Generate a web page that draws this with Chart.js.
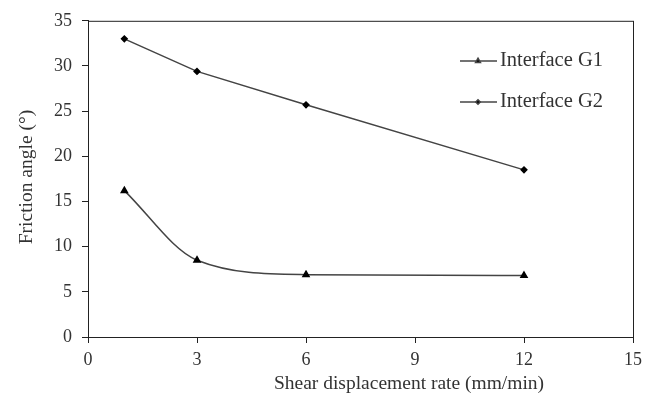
<!DOCTYPE html>
<html>
<head>
<meta charset="utf-8">
<script src="https://cdn.jsdelivr.net/npm/chart.js@4"></script>
<style>
  html, body { margin: 0; padding: 0; background: #fff; }
  #wrap { width: 648px; height: 398px; position: relative; }
</style>
</head>
<body>
<div id="wrap"><canvas id="friction-chart"></canvas></div>
<script>
const rates = [1, 3, 6, 12];
const g1Angles = [16.2, 8.5, 6.9, 6.8];
const g2Angles = [33.0, 29.4, 25.7, 18.5];
const seriesNames = ['Interface G1', 'Interface G2'];
const xTitle = 'Shear displacement rate (mm/min)';
const yTitle = 'Friction angle (°)';

const serif = 'Liberation Serif, Times New Roman, serif';
const ink = '#333';

const toPoints = (xs, ys) => xs.map((x, i) => ({ x: x, y: ys[i] }));

// frame, axis titles and the line-with-marker legend
const extras = {
  id: 'extras',
  afterDraw(chart) {
    const { ctx, chartArea: a } = chart;
    ctx.save();
    ctx.strokeStyle = '#222';
    ctx.lineWidth = 1;
    ctx.strokeRect(a.left + 0.5, a.top + 0.5, a.right - a.left, a.bottom - a.top);

    ctx.fillStyle = ink;
    ctx.font = '19.5px ' + serif;
    ctx.textAlign = 'center';
    ctx.textBaseline = 'middle';
    ctx.fillText(xTitle, 409, 384);
    ctx.translate(27, 177);
    ctx.rotate(-Math.PI / 2);
    ctx.fillText(yTitle, 0, 0);
    ctx.restore();

    const rows = [61, 102];
    chart.data.datasets.forEach((ds, i) => {
      const y = rows[i];
      ctx.save();
      ctx.strokeStyle = ds.borderColor;
      ctx.lineWidth = ds.borderWidth;
      ctx.beginPath();
      ctx.moveTo(460, y);
      ctx.lineTo(497, y);
      ctx.stroke();
      Chart.helpers.drawPoint(ctx, {
        pointStyle: ds.pointStyle,
        radius: ds.pointRadius * 0.8,
        borderWidth: 1
      }, 478, y);
      ctx.fillStyle = ink;
      ctx.font = '20.5px ' + serif;
      ctx.textAlign = 'left';
      ctx.textBaseline = 'middle';
      ctx.fillText(ds.label, 500, y);
      ctx.restore();
    });
  }
};

new Chart(document.getElementById('friction-chart'), {
  type: 'line',
  data: {
    datasets: [
      {
        label: seriesNames[0],
        data: toPoints(rates, g1Angles),
        borderColor: '#444',
        borderWidth: 1.5,
        backgroundColor: '#000',
        pointBackgroundColor: '#000',
        pointBorderColor: '#000',
        pointStyle: 'triangle',
        pointRadius: 3.5,
        cubicInterpolationMode: 'monotone',
        tension: 0.4,
      },
      {
        label: seriesNames[1],
        data: toPoints(rates, g2Angles),
        borderColor: '#444',
        borderWidth: 1.5,
        backgroundColor: '#000',
        pointBackgroundColor: '#000',
        pointBorderColor: '#000',
        pointStyle: 'rectRot',
        pointRadius: 2.8,
        tension: 0,
      },
    ],
  },
  options: {
    responsive: true,
    maintainAspectRatio: false,
    animation: false,
    layout: { padding: { top: 20, right: 12, left: 0, bottom: 0 } },
    scales: {
      x: {
        type: 'linear',
        min: 0,
        max: 15,
        afterFit: (s) => { s.height = 61; },
        ticks: { stepSize: 3, color: ink, font: { family: serif, size: 18 }, padding: 6 },
        grid: { drawOnChartArea: false, drawTicks: true, tickLength: 6, color: '#222' },
        border: { display: true, color: '#222', width: 1 },
      },
      y: {
        min: 0,
        max: 35,
        afterFit: (s) => { s.width = 88; },
        ticks: { stepSize: 5, color: ink, font: { family: serif, size: 18 }, padding: 10 },
        grid: { drawOnChartArea: false, drawTicks: true, tickLength: 6, color: '#222' },
        border: { display: true, color: '#222', width: 1 },
      },
    },
    plugins: {
      legend: { display: false },
      tooltip: { enabled: false },
    },
  },
  plugins: [extras],
});
</script>
</body>
</html>
